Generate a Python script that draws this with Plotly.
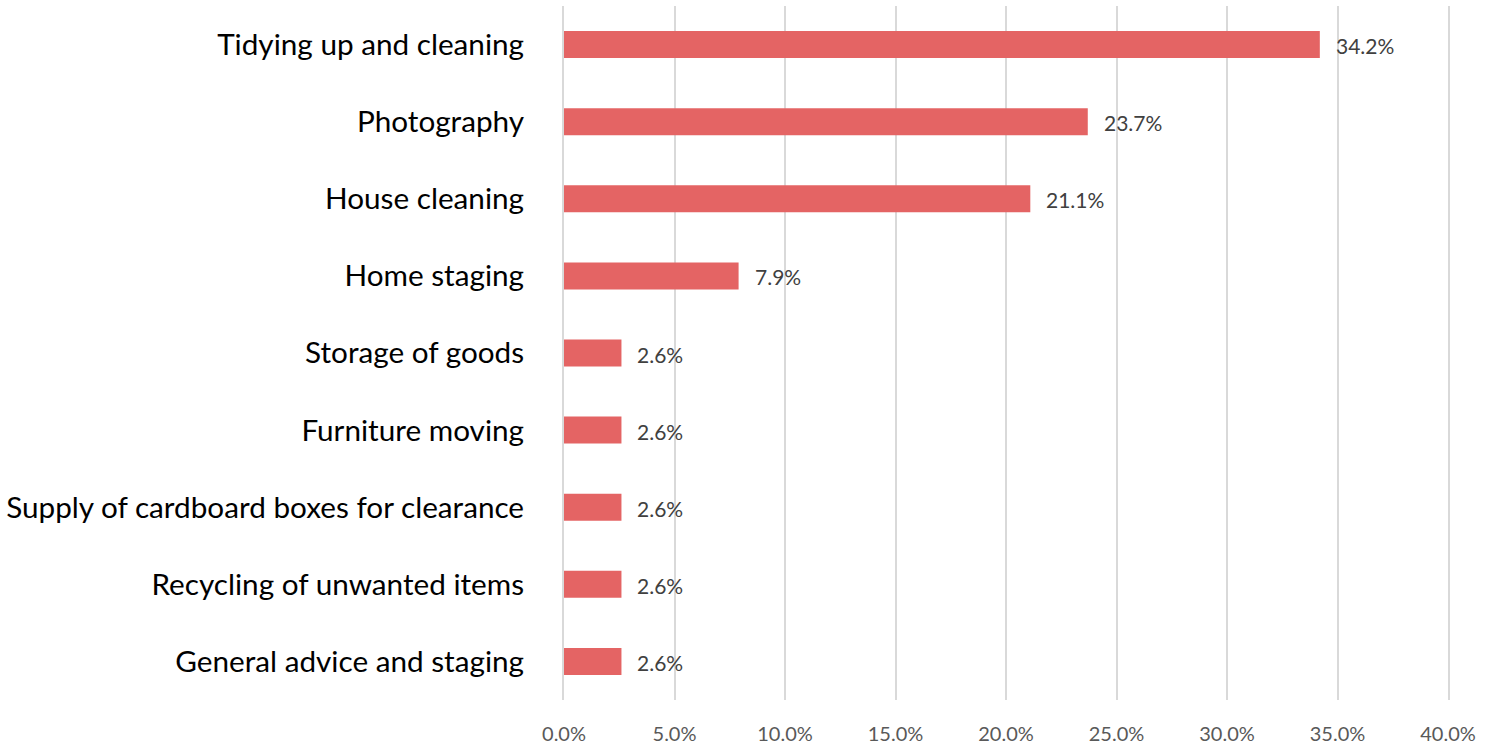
import plotly.graph_objects as go

categories = [
    "Tidying up and cleaning",
    "Photography",
    "House cleaning",
    "Home staging",
    "Storage of goods",
    "Furniture moving",
    "Supply of cardboard boxes for clearance",
    "Recycling of unwanted items",
    "General advice and staging",
]
shares = [34.2, 23.7, 21.1, 7.9, 2.6, 2.6, 2.6, 2.6, 2.6]
tick_vals = [0, 5, 10, 15, 20, 25, 30, 35, 40]
tick_text = [f"{v:.1f}%" for v in tick_vals]

bar_color = "#E46464"
grid_color = "#D9D9D9"
font_family = "Lato, Carlito, Calibri, sans-serif"

fig = go.Figure(
    go.Bar(
        x=shares,
        y=categories,
        orientation="h",
        marker=dict(color=bar_color, line=dict(width=0)),
        width=0.35,
        hoverinfo="skip",
    )
)

for cat, val in zip(categories, shares):
    fig.add_annotation(
        x=val,
        y=cat,
        text=f"{val:.1f}%",
        showarrow=False,
        xanchor="left",
        xshift=14,
        yshift=-1,
        font=dict(family=font_family, size=21, color="#404040"),
    )

fig.update_layout(
    width=1494,
    height=747,
    margin=dict(l=564, r=46, t=6, b=47, autoexpand=False),
    paper_bgcolor="white",
    plot_bgcolor="white",
    showlegend=False,
    font=dict(family=font_family),
    xaxis=dict(
        range=[0, 40],
        tickvals=tick_vals,
        ticktext=tick_text,
        showgrid=True,
        gridcolor=grid_color,
        gridwidth=2,
        zeroline=False,
        showline=False,
        ticks="",
        automargin=False,
        ticklabelstandoff=20,
        tickfont=dict(family=font_family, size=20, color="#595959"),
    ),
    yaxis=dict(
        categoryorder="array",
        categoryarray=categories[::-1],
        autorange=True,
        showgrid=False,
        zeroline=False,
        # vertical lines at the 0% and 40% edges of the plot area
        showline=True,
        mirror=True,
        linecolor=grid_color,
        linewidth=2,
        ticks="",
        automargin=False,
        ticklabelstandoff=32,
        tickfont=dict(family=font_family, size=29.7, color="#000000"),
    ),
)

fig.write_html("out.html")
